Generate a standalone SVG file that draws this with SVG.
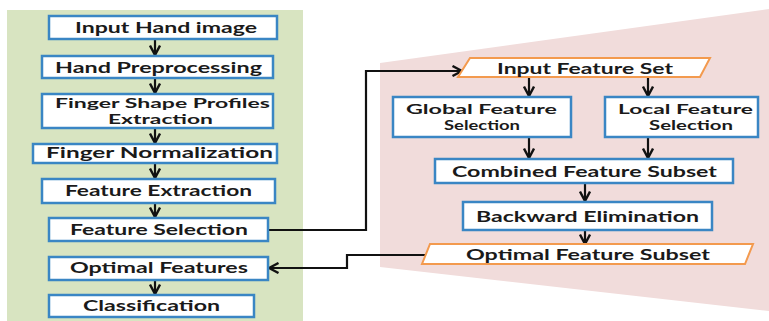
<svg xmlns="http://www.w3.org/2000/svg" width="769" height="321" viewBox="0 0 769 321">
<defs>
<style>
.box{fill:#ffffff;stroke:#3a86c4;stroke-width:2.5}
.io{fill:#ffffff;stroke:#f39a4e;stroke-width:2}
.t{font-family:Lato,"Open Sans","Liberation Sans",sans-serif;font-weight:700;font-size:14.5px;fill:#1a1a1a;text-anchor:start}
.t2{font-size:13px}
.c{fill:none;stroke:#111111;stroke-width:2.2}
</style>
<marker id="ah" viewBox="0 0 12 12" refX="11" refY="6" markerWidth="12" markerHeight="12" markerUnits="userSpaceOnUse" orient="auto">
<path d="M1.5,1 L11,6 L1.5,11" fill="none" stroke="#111111" stroke-width="2.4"/>
</marker>
</defs>
<rect x="0" y="0" width="769" height="321" fill="#ffffff"/>
<rect x="7" y="10" width="296" height="311" fill="#d8e4c1"/>
<polygon points="380,63 769,9 769,311 380,267" fill="#f1dcdb"/>

<g id="connectors">
<line class="c" x1="155" y1="39" x2="155" y2="55" marker-end="url(#ah)"/>
<line class="c" x1="155" y1="78" x2="155" y2="93" marker-end="url(#ah)"/>
<line class="c" x1="155" y1="128" x2="155" y2="143" marker-end="url(#ah)"/>
<line class="c" x1="155" y1="163" x2="155" y2="178" marker-end="url(#ah)"/>
<line class="c" x1="155" y1="203" x2="155" y2="217" marker-end="url(#ah)"/>
<line class="c" x1="155" y1="280" x2="155" y2="294" marker-end="url(#ah)"/>
<polyline class="c" points="268,230 366,230 366,71 462,71" marker-end="url(#ah)"/>
<line class="c" x1="529" y1="77" x2="529" y2="96" marker-end="url(#ah)"/>
<line class="c" x1="648" y1="77" x2="648" y2="96" marker-end="url(#ah)"/>
<line class="c" x1="529" y1="137" x2="529" y2="158" marker-end="url(#ah)"/>
<line class="c" x1="648" y1="137" x2="648" y2="158" marker-end="url(#ah)"/>
<line class="c" x1="585" y1="183" x2="585" y2="201" marker-end="url(#ah)"/>
<line class="c" x1="585" y1="230" x2="585" y2="244" marker-end="url(#ah)"/>
<polyline class="c" points="425,255 347,255 347,268 269,268" marker-end="url(#ah)"/>
</g>

<g id="input-hand-image">
<rect class="box" x="49" y="16" width="228" height="23"/>
<text class="t" x="75" y="33" textLength="182" lengthAdjust="spacingAndGlyphs">Input Hand image</text>
</g>
<g id="hand-preprocessing">
<rect class="box" x="42" y="56" width="231" height="22"/>
<text class="t" x="55" y="73" textLength="207" lengthAdjust="spacingAndGlyphs">Hand Preprocessing</text>
</g>
<g id="finger-shape-profiles">
<rect class="box" x="42" y="94" width="231" height="34"/>
<text class="t t2" x="55" y="108" textLength="215" lengthAdjust="spacingAndGlyphs">Finger Shape Profiles</text>
<text class="t t2" x="108" y="124" textLength="105" lengthAdjust="spacingAndGlyphs">Extraction</text>
</g>
<g id="finger-normalization">
<rect class="box" x="33" y="144" width="244" height="19"/>
<text class="t" x="46" y="158" textLength="227" lengthAdjust="spacingAndGlyphs">Finger Normalization</text>
</g>
<g id="feature-extraction">
<rect class="box" x="42" y="179" width="233" height="24"/>
<text class="t" x="65" y="196" textLength="187" lengthAdjust="spacingAndGlyphs">Feature Extraction</text>
</g>
<g id="feature-selection">
<rect class="box" x="49" y="218" width="219" height="23"/>
<text class="t" x="70" y="235" textLength="178" lengthAdjust="spacingAndGlyphs">Feature Selection</text>
</g>
<g id="optimal-features">
<rect class="box" x="49" y="257" width="219" height="23"/>
<text class="t" x="70" y="273" textLength="178" lengthAdjust="spacingAndGlyphs">Optimal Features</text>
</g>
<g id="classification">
<rect class="box" x="49" y="295" width="205" height="22"/>
<text class="t" x="83" y="311" textLength="137" lengthAdjust="spacingAndGlyphs">Classification</text>
</g>

<g id="input-feature-set">
<polygon class="io" points="470,58 710,58 700,77 458,77"/>
<text class="t" x="497" y="74" textLength="176" lengthAdjust="spacingAndGlyphs">Input Feature Set</text>
</g>
<g id="global-feature-selection">
<rect class="box" x="393" y="97" width="178" height="40"/>
<text class="t t2" x="406" y="114" textLength="151" lengthAdjust="spacingAndGlyphs">Global Feature</text>
<text class="t t2" x="444" y="130" textLength="76" lengthAdjust="spacingAndGlyphs">Selection</text>
</g>
<g id="local-feature-selection">
<rect class="box" x="605" y="97" width="153" height="40"/>
<text class="t t2" x="618" y="114" textLength="135" lengthAdjust="spacingAndGlyphs">Local Feature</text>
<text class="t t2" x="649" y="130" textLength="84" lengthAdjust="spacingAndGlyphs">Selection</text>
</g>
<g id="combined-feature-subset">
<rect class="box" x="435" y="159" width="298" height="24"/>
<text class="t" x="452" y="177" textLength="265" lengthAdjust="spacingAndGlyphs">Combined Feature Subset</text>
</g>
<g id="backward-elimination">
<rect class="box" x="463" y="202" width="249" height="28"/>
<text class="t" x="476" y="222" textLength="223" lengthAdjust="spacingAndGlyphs">Backward Elimination</text>
</g>
<g id="optimal-feature-subset">
<polygon class="io" points="430,244 753,244 745,264 422,264"/>
<text class="t" x="466" y="260" textLength="244" lengthAdjust="spacingAndGlyphs">Optimal Feature Subset</text>
</g>
</svg>
